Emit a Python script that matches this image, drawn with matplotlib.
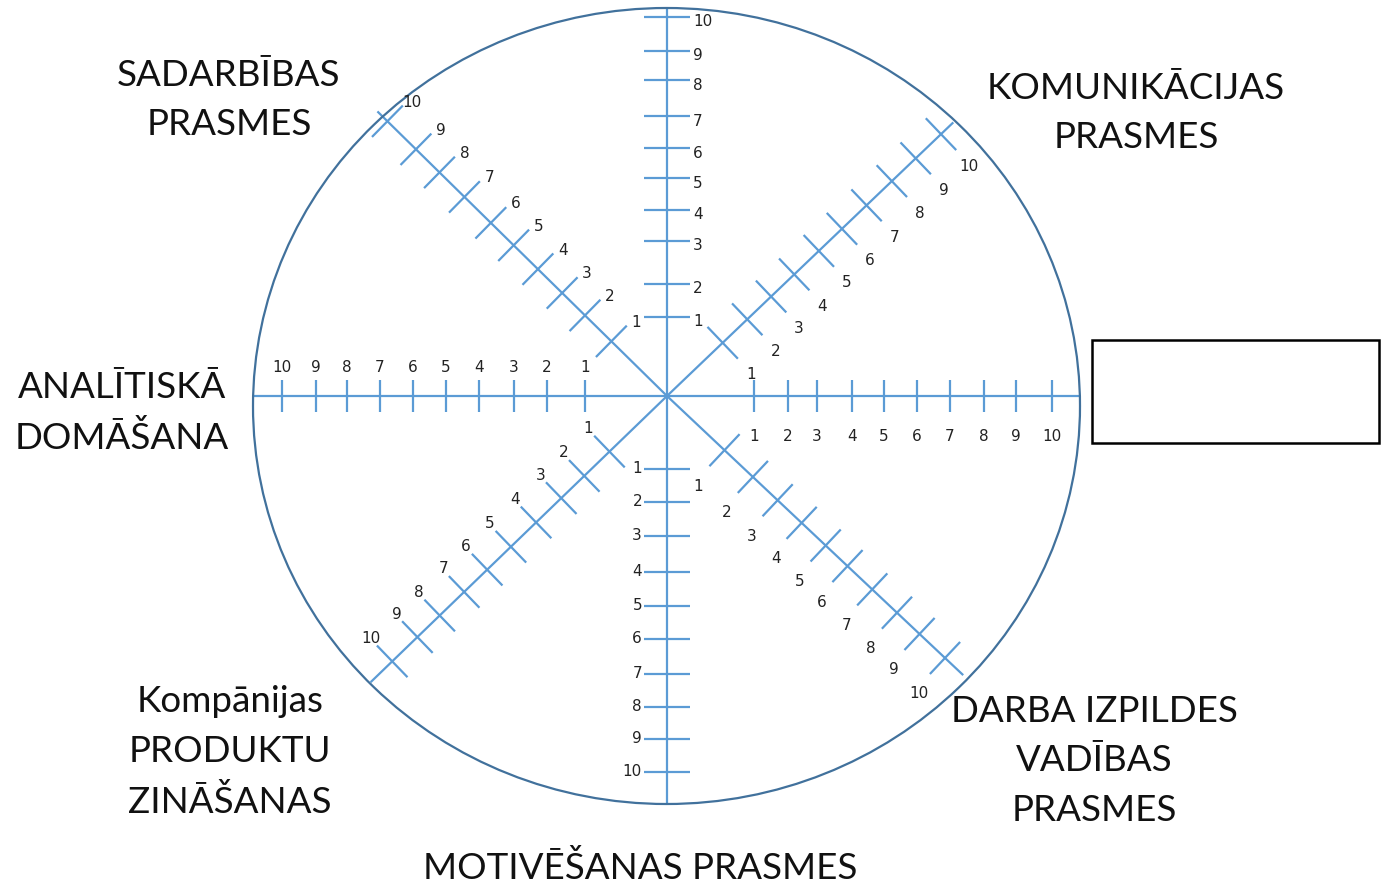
import numpy as np
import matplotlib
matplotlib.use("Agg")
import matplotlib.pyplot as plt
from matplotlib.patches import Ellipse, Rectangle

# scale values on every spoke
scale_values = list(range(1, 11))

# spoke directions (degrees, counter-clockwise from the right)
spoke_angles = {
    "up": 90.0, "upright": 43.7, "right": 0.0, "downright": -43.3,
    "down": -90.0, "downleft": -136.0, "left": 180.0, "upleft": 135.5,
}
# length of each spoke (px, hand drawn)
spoke_lengths = {
    "up": 388, "upright": 396, "right": 413, "downright": 407,
    "down": 408, "downleft": 412, "left": 414, "upleft": 406,
}
# distance of each tick 1..10 from the centre (px)
tick_up = [79, 112, 155, 186, 218, 248, 280, 316, 345, 379]
tick_upright = [77, 111, 144, 176, 210, 242, 276, 311, 344, 379]
tick_right = [87, 121, 150, 185, 217, 250, 283, 317, 349, 385]
tick_downright = [79, 118, 152, 185, 218, 248, 282, 316, 347, 382]
tick_down = [73, 106, 140, 176, 210, 243, 278, 311, 343, 376]
tick_downleft = [80, 115, 147, 182, 217, 250, 282, 316, 347, 382]
tick_left = [82, 120, 153, 188, 221, 254, 287, 320, 351, 385]
tick_upleft = [78, 115, 147, 181, 215, 247, 284, 319, 352, 392]

spoke_ticks = {
    "up": tick_up, "upright": tick_upright, "right": tick_right,
    "downright": tick_downright, "down": tick_down, "downleft": tick_downleft,
    "left": tick_left, "upleft": tick_upleft,
}

skill_labels = [
    ("SADARBĪBAS\nPRASMES", 229, 100),
    ("KOMUNIKĀCIJAS\nPRASMES", 1136, 113),
    ("ANALĪTISKĀ\nDOMĀŠANA", 122, 413),
    ("Kompānijas\nPRODUKTU\nZINĀŠANAS", 230, 752),
    ("DARBA IZPILDES\nVADĪBAS\nPRASMES", 1094, 761),
    ("MOTIVĒŠANAS PRASMES", 640, 868),
]

# style
axis_col = "#5B9BD5"
circle_col = "#41719C"
cx, cy = 667, 397
# tick half length and label offset (dx, dy, ha) per spoke
tick_half = {"up": 23, "down": 23, "left": 16, "right": 16,
             "upright": 22, "downright": 22, "downleft": 22, "upleft": 22}
lab_off = {
    "up": (26, 4, "left"), "down": (-25, -1, "right"),
    "right": (0, 40, "center"), "left": (0, -29, "center"),
    "upright": (28, 31, "center"), "downright": (-26, 35, "center"),
    "downleft": (-21, -24, "center"), "upleft": (25, -20, "center"),
}

fig = plt.figure(figsize=(13.86, 8.87), dpi=100)
ax = fig.add_axes([0, 0, 1, 1])
ax.set_xlim(0, 1386)
ax.set_ylim(887, 0)
ax.axis("off")

ax.add_patch(Ellipse((666.5, 407), 827, 796, fill=False,
                     edgecolor=circle_col, lw=1.6, zorder=3))

for key, ang in spoke_angles.items():
    a = np.deg2rad(ang)
    ux, uy = np.cos(a), -np.sin(a)   # screen coords, y down
    px, py = -uy, ux
    L = spoke_lengths[key]
    ax.plot([cx, cx + ux * L], [cy, cy + uy * L], color=axis_col, lw=1.6,
            solid_capstyle="butt", zorder=2)
    h = tick_half[key]
    dx, dy, ha = lab_off[key]
    for v, d in zip(scale_values, spoke_ticks[key]):
        tx, ty = cx + ux * d, cy + uy * d
        ax.plot([tx - px * h, tx + px * h], [ty - py * h, ty + py * h],
                color=axis_col, lw=1.6, solid_capstyle="butt", zorder=2)
        ax.text(tx + dx, ty + dy, str(v), ha=ha, va="center",
                fontsize=11, color="#222222", family="DejaVu Sans")

for txt, x, y in skill_labels:
    ax.text(x, y, txt, ha="center", va="center", fontsize=26.5,
            family="Lato", color="#111111", linespacing=1.62)

ax.add_patch(Rectangle((1092, 341), 287, 103, fill=False,
                       edgecolor="black", lw=1.8))

fig.savefig("out.png", dpi=100)
